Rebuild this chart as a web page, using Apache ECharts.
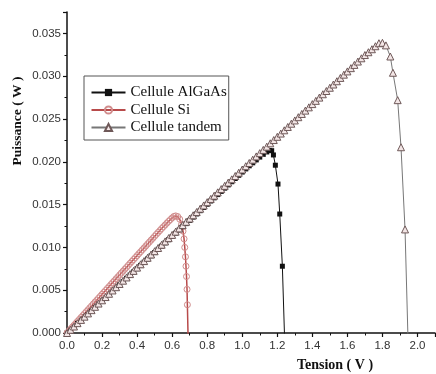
<!DOCTYPE html>
<html>
<head>
<meta charset="utf-8">
<script src="https://cdn.jsdelivr.net/npm/echarts@6/dist/echarts.min.js"></script>
<style>
html,body{margin:0;padding:0;background:#fff;}
#chart{width:436px;height:374px;}
</style>
</head>
<body>
<div id="chart"></div>
<script>
// Tension (V), Puissance (W)
var algaas = [
[0,0],[0.02,0.00038],[0.04,0.00075],[0.06,0.00113],[0.08,0.0015],[0.10,0.00188],[0.12,0.00226],[0.14,0.00263],[0.16,0.00301],[0.18,0.00338],
[0.20,0.00376],[0.22,0.00414],[0.24,0.00451],[0.26,0.00489],[0.28,0.00526],[0.30,0.00564],[0.32,0.00602],[0.34,0.00639],[0.36,0.00677],[0.38,0.00714],
[0.40,0.00752],[0.42,0.0079],[0.44,0.00827],[0.46,0.00865],[0.48,0.00902],[0.50,0.0094],[0.52,0.00978],[0.54,0.01015],[0.56,0.01053],[0.58,0.0109],
[0.60,0.01128],[0.62,0.01166],[0.64,0.01203],[0.66,0.01241],[0.68,0.01278],[0.70,0.01316],[0.72,0.01354],[0.74,0.01391],[0.76,0.01429],[0.78,0.01466],
[0.80,0.01504],[0.82,0.01542],[0.84,0.01579],[0.86,0.01617],[0.88,0.01654],[0.90,0.01692],[0.92,0.0173],[0.94,0.01767],[0.96,0.01805],[0.98,0.01842],
[1.00,0.0188],[1.02,0.01917],[1.04,0.01953],[1.06,0.01988],[1.08,0.02022],[1.10,0.02055],[1.12,0.02087],[1.14,0.02115],[1.155,0.02133],[1.168,0.0213],
[1.178,0.0208],[1.189,0.0196],[1.204,0.0174],[1.214,0.0139],[1.229,0.0078],[1.243,-0.0015]
];
var si = [
[0,0],[0.01,0.00023],[0.02,0.00045],[0.03,0.00068],[0.04,0.0009],[0.05,0.00113],[0.06,0.00136],[0.07,0.00158],[0.08,0.00181],[0.09,0.00203],
[0.10,0.00226],[0.11,0.00249],[0.12,0.00271],[0.13,0.00294],[0.14,0.00316],[0.15,0.00339],[0.16,0.00362],[0.17,0.00384],[0.18,0.00407],[0.19,0.00429],
[0.20,0.00452],[0.21,0.00475],[0.22,0.00497],[0.23,0.0052],[0.24,0.00542],[0.25,0.00565],[0.26,0.00588],[0.27,0.0061],[0.28,0.00633],[0.29,0.00655],
[0.30,0.00678],[0.31,0.00701],[0.32,0.00723],[0.33,0.00746],[0.34,0.00768],[0.35,0.00791],[0.36,0.00814],[0.37,0.00836],[0.38,0.00859],[0.39,0.00881],
[0.40,0.00904],[0.41,0.00927],[0.42,0.00949],[0.43,0.00972],[0.44,0.00994],[0.45,0.01017],[0.46,0.0104],[0.47,0.01062],[0.48,0.01085],[0.49,0.01107],
[0.50,0.0113],[0.51,0.01153],[0.52,0.01175],[0.53,0.01197],[0.54,0.0122],[0.55,0.01241],[0.56,0.01262],[0.57,0.01284],[0.58,0.01305],[0.59,0.01325],
[0.60,0.01345],[0.61,0.01362],[0.62,0.01368],[0.632,0.0136],[0.643,0.0133],[0.654,0.0127],[0.662,0.0119],[0.668,0.011],[0.672,0.01],[0.676,0.0089],
[0.679,0.0078],[0.682,0.0066],[0.685,0.0051],[0.687,0.0033],[0.692,-0.0015]
];
var tandem = [
[0,0],[0.02,0.00038],[0.04,0.00076],[0.06,0.00115],[0.08,0.00153],[0.10,0.00191],[0.12,0.00229],[0.14,0.00267],[0.16,0.00306],[0.18,0.00344],
[0.20,0.00382],[0.22,0.0042],[0.24,0.00458],[0.26,0.00497],[0.28,0.00535],[0.30,0.00573],[0.32,0.00611],[0.34,0.00649],[0.36,0.00688],[0.38,0.00726],
[0.40,0.00764],[0.42,0.00802],[0.44,0.0084],[0.46,0.00879],[0.48,0.00917],[0.50,0.00955],[0.52,0.00993],[0.54,0.01031],[0.56,0.0107],[0.58,0.01108],
[0.60,0.01146],[0.62,0.01184],[0.64,0.01222],[0.66,0.01261],[0.68,0.01299],[0.70,0.01337],[0.72,0.01375],[0.74,0.01413],[0.76,0.01452],[0.78,0.0149],
[0.80,0.01528],[0.82,0.01566],[0.84,0.01604],[0.86,0.01643],[0.88,0.01681],[0.90,0.01719],[0.92,0.01757],[0.94,0.01795],[0.96,0.01834],[0.98,0.01872],
[1.00,0.0191],[1.02,0.01948],[1.04,0.01986],[1.06,0.02025],[1.08,0.02063],[1.10,0.02101],[1.12,0.02139],[1.14,0.02177],[1.16,0.02216],[1.18,0.02254],
[1.20,0.02292],[1.22,0.0233],[1.24,0.02368],[1.26,0.02407],[1.28,0.02445],[1.30,0.02483],[1.32,0.02521],[1.34,0.02559],[1.36,0.02598],[1.38,0.02636],
[1.40,0.02674],[1.42,0.02712],[1.44,0.0275],[1.46,0.02789],[1.48,0.02827],[1.50,0.02865],[1.52,0.02903],[1.54,0.02941],[1.56,0.0298],[1.58,0.03018],
[1.60,0.03056],[1.62,0.03094],[1.64,0.03132],[1.66,0.03171],[1.68,0.03209],[1.70,0.03247],[1.72,0.0328],[1.74,0.03315],[1.76,0.0335],[1.78,0.03385],
[1.80,0.0339],[1.82,0.0336],[1.845,0.0323],[1.86,0.0304],[1.887,0.0272],[1.906,0.0217],[1.929,0.0121],[1.947,-0.0015]
];
var seriesNames = ['Cellule AlGaAs', 'Cellule Si', 'Cellule tandem'];
var xTitle = 'Tension ( V )';
var yTitle = 'Puissance ( W )';

var chart = echarts.init(document.getElementById('chart'), null, {renderer: 'canvas'});
var tickFont = {fontFamily: 'Liberation Sans, Arial, sans-serif', fontSize: 11.5, color: '#333'};
var option = {
  animation: false,
  backgroundColor: '#fff',
  grid: {left: 67, right: 1, top: 12, bottom: 41, containLabel: false},
  xAxis: {
    type: 'value', min: 0, max: 2.1, interval: 0.2,
    axisLine: {show: true, onZero: false, lineStyle: {color: '#111', width: 1.5}},
    axisTick: {show: true, inside: false, length: 4, lineStyle: {color: '#111', width: 1.2}},
    minorTick: {show: true, splitNumber: 2, length: 2.5, lineStyle: {color: '#111', width: 1}},
    splitLine: {show: false},
    axisLabel: Object.assign({margin: 7, showMaxLabel: false, formatter: function (v) { return v.toFixed(1); }}, tickFont)
  },
  yAxis: {
    type: 'value', min: 0, max: 0.0375, interval: 0.005,
    axisLine: {show: true, onZero: false, lineStyle: {color: '#111', width: 1.5}},
    axisTick: {show: true, inside: false, length: 4, lineStyle: {color: '#111', width: 1.2}},
    minorTick: {show: true, splitNumber: 2, length: 2.5, lineStyle: {color: '#111', width: 1}},
    splitLine: {show: false},
    axisLabel: Object.assign({margin: 6, showMaxLabel: false, formatter: function (v) { return v.toFixed(3); }}, tickFont)
  },
  legend: {
    left: 84, top: 76, orient: 'vertical',
    data: seriesNames,
    borderColor: '#555', borderWidth: 1, borderRadius: 0,
    padding: [8, 2, 4, 6.5],
    itemWidth: 34, itemHeight: 9, itemGap: 0.5,
    textStyle: {fontFamily: 'Liberation Serif, Times New Roman, serif', fontSize: 15, color: '#111', lineHeight: 17}
  },
  graphic: [
    {type: 'text', x: 18, y: 121, rotation: Math.PI / 2,
     style: {text: yTitle, font: 'bold 13.5px "Liberation Serif", serif', fill: '#111', align: 'center', verticalAlign: 'middle'}},
    {type: 'text', x: 335, y: 365,
     style: {text: xTitle, font: 'bold 14px "Liberation Serif", serif', fill: '#111', align: 'center', verticalAlign: 'middle'}}
  ],
  series: [
    {
      name: seriesNames[0], type: 'line', data: algaas, clip: true,
      symbol: 'rect', symbolSize: 5,
      lineStyle: {color: '#111', width: 1},
      itemStyle: {color: '#111', borderColor: '#111', borderWidth: 0}
    },
    {
      name: seriesNames[1], type: 'line', data: si, clip: true,
      symbol: 'circle', symbolSize: 6,
      lineStyle: {color: '#b84a4a', width: 1.5},
      itemStyle: {color: 'rgba(255,255,255,0)', borderColor: '#d08c8c', borderWidth: 1}
    },
    {
      name: seriesNames[2], type: 'line', data: tandem, clip: true,
      symbol: 'triangle', symbolSize: 7,
      lineStyle: {color: '#777', width: 1},
      itemStyle: {color: '#f3e6e6', borderColor: '#6e5858', borderWidth: 1}
    }
  ]
};
chart.setOption(option);
</script>
</body>
</html>
